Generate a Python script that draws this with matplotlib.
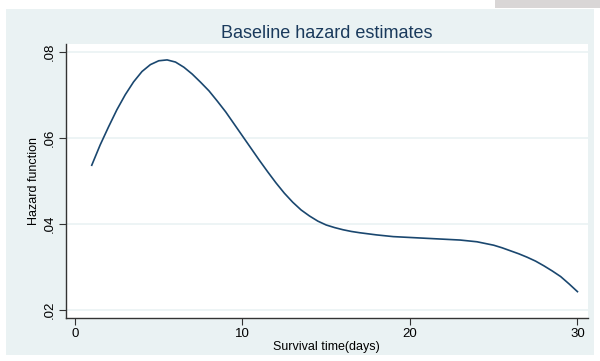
import numpy as np
import matplotlib.pyplot as plt
from matplotlib.patches import Rectangle

plt.rcParams['font.family'] = ['Liberation Sans', 'DejaVu Sans']

# hazard values (half days where the curve bends most)
dias = [1.0, 1.5, 2.0, 2.5, 3.0, 3.5, 4.0, 4.5, 5.0, 5.5, 6.0, 6.5, 7.0,
        7.5, 8.0, 8.5, 9.0, 9.5, 10.0, 10.5, 11.0, 11.5, 12.0, 12.5, 13.0,
        13.5, 14.0, 14.5, 15.0, 15.5, 16.0, 16.5, 17.0, 18.0, 19.0, 20.0,
        21.0, 22.0, 23.0, 24.0, 24.5, 25.0, 25.5, 26.0, 26.5, 27.0, 27.5,
        28.0, 28.5, 29.0, 29.5, 30.0]
hazard = [0.0536, 0.0583, 0.0625, 0.0665, 0.0700, 0.0730, 0.0754, 0.0770,
          0.0779, 0.0781, 0.0776, 0.0764, 0.0748, 0.0729, 0.0709, 0.0685,
          0.0660, 0.0632, 0.0604, 0.0576, 0.0548, 0.0521, 0.0495, 0.0471,
          0.0450, 0.0432, 0.0418, 0.0406, 0.0397, 0.0391, 0.0386, 0.0382,
          0.0379, 0.0374, 0.0370, 0.0368, 0.0366, 0.0364, 0.0362, 0.0358,
          0.0354, 0.0350, 0.0344, 0.0337, 0.0330, 0.0322, 0.0313, 0.0302,
          0.0290, 0.0277, 0.0260, 0.0242]
xticks = [0, 10, 20, 30]
yticks = [0.02, 0.04, 0.06, 0.08]
ylabels = ['.02', '.04', '.06', '.08']

fondo = '#eaf2f3'
azul = '#1a476f'

fig = plt.figure(figsize=(6, 3.61), dpi=100, facecolor='white')
# fondo gris azulado del grafico
fig.patches.append(Rectangle((6/600, 1-355/361), 588/600, 346/361,
                             transform=fig.transFigure, facecolor=fondo,
                             edgecolor='none', zorder=-5))
# mancha gris arriba a la derecha
fig.patches.append(Rectangle((495/600, 1-8/361), 105/600, 8/361,
                             transform=fig.transFigure, facecolor='#d9d6d6',
                             edgecolor='none', zorder=-5))

ax = fig.add_axes([65.7/600, 1-318.3/361, (588-65.7)/600, (318.3-44)/361])
ax.set_facecolor('white')
ax.plot(dias, hazard, color=azul, lw=1.2, zorder=3)

ax.set_xlim(-0.555, 30.63)
ax.set_ylim(0.018, 0.0818)
ax.set_xticks(xticks)
ax.set_yticks(yticks)
ax.set_yticklabels(ylabels, rotation=90, va='center')
for y in yticks:
    ax.axhline(y, color=fondo, lw=1.2, zorder=1)

for s in ['top', 'right']:
    ax.spines[s].set_visible(False)
for s in ['left', 'bottom']:
    ax.spines[s].set_color('#333333')
    ax.spines[s].set_linewidth(1.0)
ax.tick_params(direction='out', length=5, width=0.8, color='#333333',
               labelsize=9.5, pad=2)

ax.set_title('Baseline hazard estimates', fontsize=13, color='#1a3a5c', pad=4)
ax.set_xlabel('Survival time(days)', fontsize=9, labelpad=1)
ax.set_ylabel('Hazard function', fontsize=9, labelpad=3)

fig.savefig('out.png', dpi=100, facecolor=fig.get_facecolor())
